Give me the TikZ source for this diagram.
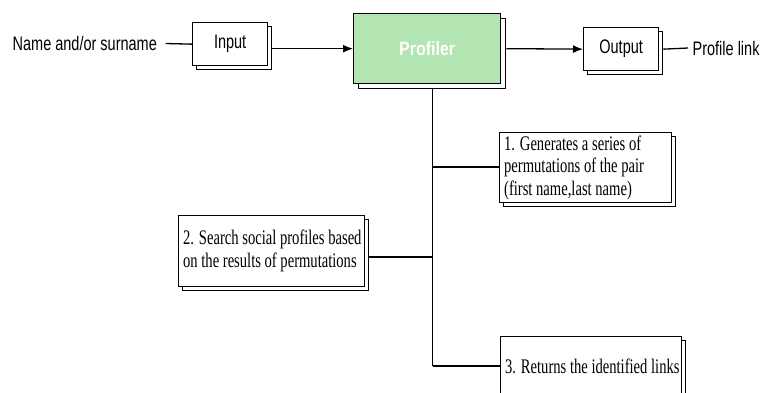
\documentclass[tikz,border=0pt]{standalone}
\usepackage{fontspec}
\usepackage{graphicx}
\setmainfont{Liberation Serif}
\setsansfont{Liberation Sans}
\usetikzlibrary{shadows,arrows.meta}
\definecolor{profgreen}{HTML}{B2E5B2}
\newcommand\sline[1]{\scalebox{1}[1.35]{#1}}
\newcommand\rline[1]{\scalebox{1}[1.42]{#1}}
\begin{document}
\begin{tikzpicture}[x=1pt,y=-1pt,
  line width=1.3pt,
  sbox/.style={draw=black, fill=white, rectangle, inner sep=0pt, anchor=north west,
    font=\sffamily\fontsize{14.5}{17}\selectfont,
    copy shadow={shadow xshift=4pt, shadow yshift=-4pt}},
  tbox/.style={draw=black, fill=white, rectangle, inner xsep=4.5pt, inner ysep=0pt, anchor=north west,
    align=flush left, font=\rmfamily\fontsize{14.6}{22.5}\selectfont,
    copy shadow={shadow xshift=4pt, shadow yshift=-4pt}},
  lbl/.style={font=\sffamily\fontsize{14.5}{17}\selectfont, inner sep=0pt},
  arr/.style={-{Latex[length=10pt,width=8pt]}},
  conn/.style={draw=black}
]
\clip (0,0) rectangle (764,392);
\fill[white] (0,0) rectangle (764,392);

% top row
\node[lbl, anchor=west] (name) at (12,43.5) {\sline{Name and/or surname}};
\node[sbox, minimum width=75pt, minimum height=43pt] (in) at (192,22) {\sline{Input}};
\node[draw=black, fill=profgreen, rectangle, anchor=north west, minimum width=147pt, minimum height=70pt,
  text=white, font=\sffamily\bfseries\fontsize{16}{19}\selectfont,
  copy shadow={shadow xshift=5pt, shadow yshift=-5pt, fill=white}] (prof) at (353,13) {\scalebox{1}[1.2]{Profiler}};
\node[sbox, minimum width=75pt, minimum height=43pt] (out) at (583,27) {\sline{Output}};
\node[lbl, anchor=west] (link) at (692,48) {\sline{Profile link}};

\draw[conn] ([xshift=8pt]name.east) -- (in.west);
\draw[conn, arr] ([xshift=4pt]in.east |- prof.west) -- (prof.west);
\draw[conn, arr] ([xshift=5pt]prof.east) -- (out.west);
\draw[conn] ([xshift=4pt]out.east) -- ([xshift=-4pt]link.west);

% step boxes
\node[tbox, minimum width=172pt, minimum height=70pt, text width=163pt] (s1) at (499,132)
  {\rline{1. Generates a series of}\\\rline{permutations of the pair}\\\rline{(first name,last name)}};
\node[tbox, minimum width=186pt, minimum height=71pt, text width=177pt] (s2) at (178,215)
  {\rline{2. Search social profiles based}\\\rline{on the results of permutations}};
\node[tbox, minimum width=181pt, minimum height=60pt, text width=172pt] (s3) at (500,336)
  {\rline{3. Returns the identified links}};

% trunk and branches
\coordinate (top) at (432.5,89);
\coordinate (b1) at (432.5,167);
\coordinate (b2) at (432.5,257);
\coordinate (b3) at (432.5,366);
\draw[conn] (top) -- (b3);
\draw[conn] (b1) -- (b1 -| s1.west);
\draw[conn] (b2) -- ([xshift=4pt]b2 -| s2.east);
\draw[conn] (b3) -- (b3 -| s3.west);
\end{tikzpicture}
\end{document}
